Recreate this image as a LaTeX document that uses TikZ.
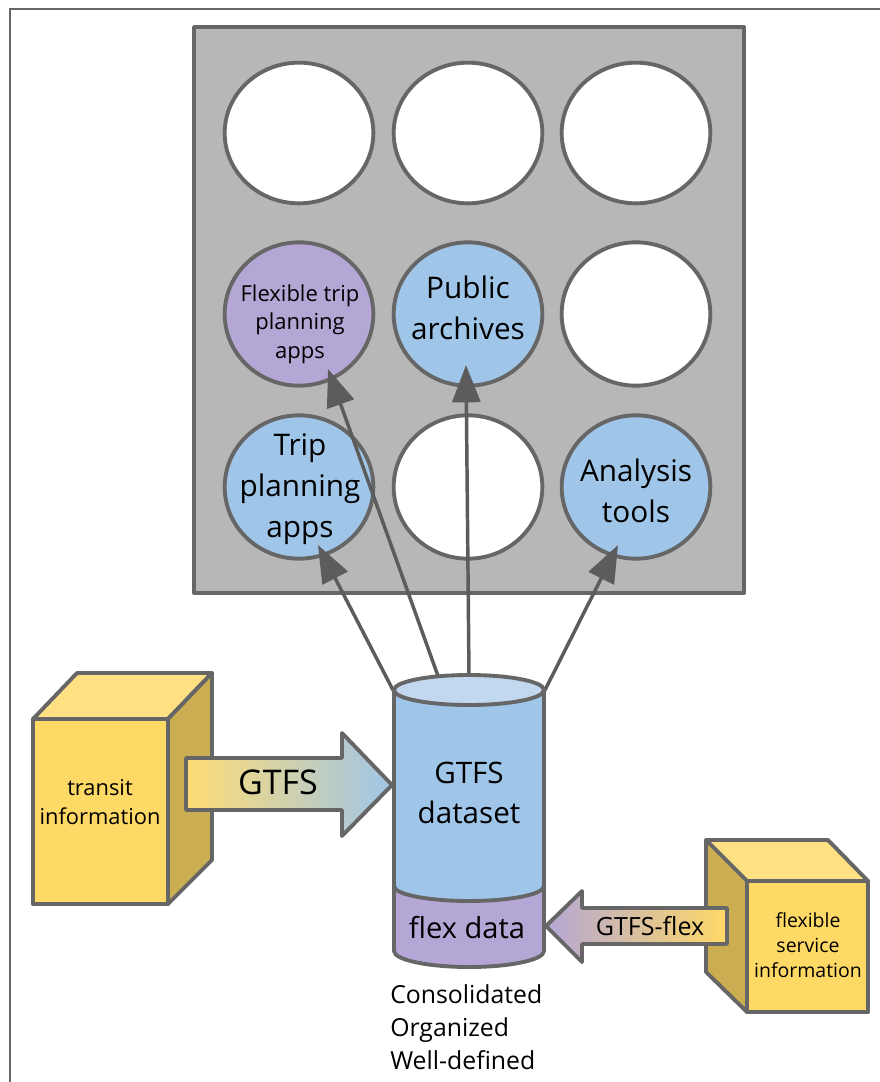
\documentclass[tikz,border=0pt]{standalone}
\usepackage{fontspec}
\setmainfont{Open Sans}
\usetikzlibrary{arrows.meta,shapes.geometric}
\definecolor{ln}{HTML}{666666}
\definecolor{arr}{HTML}{5C5C5C}
\definecolor{panelgray}{HTML}{B7B7B7}
\definecolor{bluef}{HTML}{9FC5E8}
\definecolor{bluetop}{HTML}{C2D8EE}
\definecolor{purp}{HTML}{B4A7D6}
\definecolor{yel}{HTML}{FFD966}
\definecolor{yeltop}{HTML}{FFE083}
\definecolor{yelside}{HTML}{CCAE52}
\tikzset{
  x=0.75pt,y=-0.75pt,
  outline/.style={draw=ln,line width=2.9pt,line join=round},
  disc/.style={ellipse,outline,inner sep=0pt,minimum width=111.5pt,minimum height=107.5pt,fill=white,align=center},
  discblue/.style={disc,fill=bluef},
  discpurp/.style={disc,fill=purp},
  feed/.style={draw=arr,line width=2.6pt,-{Triangle[length=28pt,width=21pt]},shorten >=0pt},
  big/.style={font=\fontsize{22.3}{30.8}\selectfont,align=center,inner sep=0pt,text=black},
  small/.style={font=\fontsize{16.4}{22}\selectfont,align=center,inner sep=0pt,text=black},
}
\begin{document}
\begin{tikzpicture}
\useasboundingbox (0,0) rectangle (880,1082);
\fill[white] (0,0) rectangle (880,1082);
\draw[ln,line width=2pt] (10,1082) -- (10,9) -- (880,9);
% panel
\node[outline,fill=panelgray,minimum width=412.5pt,minimum height=424.5pt,inner sep=0pt] (panel) at (469,310) {};
\node[disc,minimum height=105.5pt] (c11) at (299,133) {};
\node[disc,minimum height=105.5pt] (c12) at (468,133) {};
\node[disc,minimum height=105.5pt] (c13) at (636,133) {};
\node[discpurp] (flexapps) at (299,314) {};
\node[small,font=\fontsize{16.5}{21.4}\selectfont] (flexappstext) at (300,324) {Flexible trip\\planning\\apps};
\node[discblue] (archives) at (468,314) {};
\node[big] (archivestext) at (468,308) {Public\\archives};
\node[disc] (c23) at (636,314) {};
\node[discblue] (tripapps) at (299,487) {};
\node[big] (tripappstext) at (300,489) {Trip\\planning\\apps};
\node[disc] (c32) at (468,487) {};
\node[discblue] (tools) at (636,487) {};
\node[big] (toolstext) at (636,491) {Analysis\\tools};
% connectors
\coordinate (cylA) at (394,692);
\coordinate (cylB) at (438,676);
\coordinate (cylC) at (469,675);
\coordinate (cylD) at (544,692);
\coordinate (tipTrip) at (318,545);
\coordinate (tipFlex) at (328,369);
\coordinate (tipPub) at (466,365);
\coordinate (tipTool) at (618,545);
\draw[feed] (cylA) -- (tipTrip);
\draw[feed] (cylB) -- (tipFlex);
\draw[feed] (cylC) -- (tipPub);
\draw[feed] (cylD) -- (tipTool);
% left box
\draw[outline,fill=yeltop] (33,719) -- (77,673) -- (212,673) -- (168,719) -- cycle;
\draw[outline,fill=yelside] (168,719) -- (212,673) -- (212,860) -- (168,904) -- cycle;
\node[outline,fill=yel,minimum width=101pt,minimum height=139pt,inner sep=0pt] (transit) at (100.5,811.5) {};
\node[small] (transittext) at (100,802) {transit\\information};
% right box
\draw[outline,fill=yeltop] (706,840) -- (828,840) -- (868,881) -- (747,881) -- cycle;
\draw[outline,fill=yelside] (706,840) -- (747,881) -- (747,1012) -- (706,972) -- cycle;
\node[outline,fill=yel,minimum width=91pt,minimum height=98pt,inner sep=0pt] (flexinfo) at (807.5,946.5) {};
\node[small,font=\fontsize{14.6}{18.6}\selectfont] (flexinfotext) at (808,945) {flexible\\service\\information};
% cylinder
\draw[outline,fill=purp] (394,886) -- (394,951) arc[start angle=180,end angle=0,x radius=75,y radius=16] -- (544,886) -- cycle;
\draw[outline,fill=bluef] (394,690) -- (394,886) arc[start angle=180,end angle=0,x radius=75,y radius=15] -- (544,690) -- cycle;
\draw[outline,fill=bluetop] (469,690) ellipse[x radius=75,y radius=15];
\node[big,font=\fontsize{22.2}{30.6}\selectfont] (gtfsdata) at (469,793) {GTFS\\dataset};
\node[big,font=\fontsize{21.8}{30.6}\selectfont] (flexdata) at (467,928) {flex data};
\node[small,align=left,anchor=north west,font=\fontsize{18.6}{24.75}\selectfont] (props) at (390,984) {Consolidated\\Organized\\Well-defined};
% block arrows
\draw[outline,left color=yel!90!white,right color=bluef] (186,758) -- (342,758) -- (342,733) -- (392,785) -- (342,836) -- (342,810) -- (186,810) -- cycle;
\node[big,font=\fontsize{25.5}{28}\selectfont] (gtfs) at (278,782) {GTFS};
\draw[outline,left color=purp,right color=yel] (546,926) -- (582,891) -- (582,908) -- (727,908) -- (727,944) -- (582,944) -- (582,962) -- cycle;
\node[small,font=\fontsize{18.8}{20}\selectfont] (gtfsflex) at (650,926) {GTFS-flex};
\end{tikzpicture}
\end{document}
